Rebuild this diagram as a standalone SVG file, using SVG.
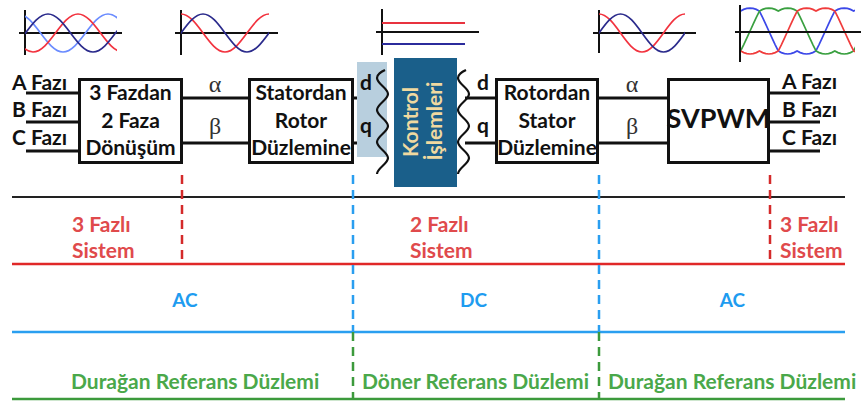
<svg xmlns="http://www.w3.org/2000/svg" width="861" height="401" viewBox="0 0 861 401">
<defs>
<style>
.t{font-family:Lato,"Liberation Sans",sans-serif;font-weight:700;fill:#111}
.bt{font-size:21px;text-anchor:middle}
.lab{font-size:21px}
.box{fill:#fff;stroke:#111;stroke-width:3}
.ln{stroke:#111;stroke-width:3;fill:none}
.ax{stroke:#111;stroke-width:2;fill:none}
.w{fill:none;stroke-width:1.7}
.gr{font-family:"Liberation Serif",serif;font-size:24px;fill:#333;text-anchor:middle}
.red{fill:#e04a4c}
.blu{fill:#1e9cf0;font-size:19px;text-anchor:middle}
.grn{fill:#4aa84a}
.dr{stroke:#d42a2a;stroke-width:2.5;stroke-dasharray:9 6}
.db{stroke:#2a9ef0;stroke-width:2.5;stroke-dasharray:9 6}
.dg{stroke:#3c9a3c;stroke-width:2.5;stroke-dasharray:9 6}
.wav{fill:none;stroke:#111;stroke-width:2.2}
.ctl{font-size:21px;text-anchor:middle;fill:#f0d9a0}
</style>
<clipPath id="c1"><rect x="25" y="0" width="92" height="70"/></clipPath>
<clipPath id="c2"><rect x="181" y="0" width="88" height="70"/></clipPath>
<clipPath id="c3"><rect x="599" y="0" width="86" height="70"/></clipPath>
<clipPath id="c4"><rect x="740" y="0" width="115" height="70"/></clipPath>
<path id="svp" d="M-113,31 l3.14,-6.9 3.14,-6.7 3.14,-6.3 3.14,-1.7 3.14,-1 3.14,-0.35 3.14,0.35 3.14,1 3.14,1.7 3.14,-1.7 3.14,-1 3.14,-0.35 3.14,0.35 3.14,1 3.14,1.7 3.14,6.3 3.14,6.7 3.14,6.9 3.14,6.9 3.14,6.7 3.14,6.3 3.14,1.7 3.14,1 3.14,0.4 3.14,-0.4 3.14,-1 3.14,-1.7 3.14,1.7 3.14,1 3.14,0.4 3.14,-0.4 3.14,-1 3.14,-1.7 3.14,-6.3 3.14,-6.7 3.14,-6.9 3.14,-6.9 3.14,-6.7 3.14,-6.3 3.14,-1.7 3.14,-1 3.14,-0.35 3.14,0.35 3.14,1 3.14,1.7 3.14,-1.7 3.14,-1 3.14,-0.35 3.14,0.35 3.14,1 3.14,1.7 3.14,6.3 3.14,6.7 3.14,6.9 3.14,6.9 3.14,6.7 3.14,6.3 3.14,1.7 3.14,1 3.14,0.4 3.14,-0.4 3.14,-1 3.14,-1.7 3.14,1.7 3.14,1 3.14,0.4 3.14,-0.4 3.14,-1 3.14,-1.7 3.14,-6.3 3.14,-6.7 3.14,-6.9"/>
<path id="wavy" d="M385,70 C381,72 377,74 377,78 C377,83.8 388,88.2 388,94 C388,99.8 377,104.2 377,110 C377,115.8 388,120.2 388,126 C388,131.8 377,136.2 377,142 C377,147.8 388,152.2 388,158 C388,163.8 377,168.2 377,174"/>
</defs>
<rect width="861" height="401" fill="#fff"/>

<g id="waveforms">
  <g id="wave-3phase-in">
    <path class="ax" d="M25,10 V55 M19,33 H122"/>
    <g clip-path="url(#c1)">
      <path class="w" stroke="#6b8cff" d="M-27,52 C-10.6,52 1.6,14 18,14 C34.4,14 46.6,52 63,52 C79.4,52 91.6,14 108,14 C124.4,14 136.6,52 153,52"/>
      <path class="w" stroke="#f2333f" d="M-12,14 C4.4,14 16.6,52 33,52 C49.4,52 61.6,14 78,14 C94.4,14 106.6,52 123,52"/>
      <path class="w" stroke="#2b2b8c" d="M3,52 C19.4,52 31.6,14 48,14 C64.4,14 76.6,52 93,52 C109.4,52 121.6,14 138,14"/>
    </g>
  </g>
  <g id="wave-ab-in">
    <path class="ax" d="M181,10 V55 M175,33 H278"/>
    <g clip-path="url(#c2)">
      <path class="w" stroke="#f2333f" d="M181,14 C197,14 209,52 225,52 C241,52 253,14 269,14"/>
      <path class="w" stroke="#2b2b8c" d="M159,52 C175,52 187,14 203,14 C219,14 231,52 247,52 C263,52 275,14 291,14"/>
    </g>
  </g>
  <g id="wave-dc">
    <path class="ax" d="M382,9 V55 M376,32 H479"/>
    <path fill="none" stroke="#e8333f" stroke-width="2" d="M382,23 H465"/>
    <path fill="none" stroke="#2b2b9c" stroke-width="2" d="M382,44 H465"/>
  </g>
  <g id="wave-ab-out">
    <path class="ax" d="M599,10 V53 M593,33 H696"/>
    <g clip-path="url(#c3)">
      <path class="w" stroke="#f2333f" d="M599,14 C614.7,14 626.3,52 642,52 C657.7,52 669.3,14 685,14"/>
      <path class="w" stroke="#2b2b8c" d="M577.5,52 C593.2,52 604.8,14 620.5,14 C636.2,14 647.8,52 663.5,52 C679.2,52 690.8,14 706.5,14"/>
    </g>
  </g>
  <g id="wave-svpwm">
    <g clip-path="url(#c4)">
      <use href="#svp" class="w" stroke="#3c48e8" transform="translate(825.3,0)"/>
      <use href="#svp" class="w" stroke="#3aa040" transform="translate(750,0)"/>
      <use href="#svp" class="w" stroke="#f03c3c" transform="translate(787.7,0)"/>
    </g>
    <path class="ax" d="M740,5 V62 M735,32 H861"/>
  </g>
</g>

<g id="connectors">
  <path class="ln" d="M26,93 H78 M26,122 H78 M26,151 H78"/>
  <path class="ln" d="M183,98 H248 M183,143 H248"/>
  <path class="ln" d="M354,98 H383 M354,143 H383"/>
  <path class="ln" d="M465,98 H495 M465,143 H495"/>
  <path class="ln" d="M599,98 H667 M599,143 H667"/>
  <path class="ln" d="M770,93 H820 M770,122 H820 M770,151 H820"/>
</g>

<g id="labels-in">
  <text class="t lab" x="12" y="90">A Fazı</text>
  <text class="t lab" x="12" y="117">B Fazı</text>
  <text class="t lab" x="12" y="145">C Fazı</text>
</g>

<g id="n-3to2">
  <rect class="box" x="79.5" y="79.5" width="102" height="83"/>
  <text class="t bt" x="130.5" y="100">3 Fazdan</text>
  <text class="t bt" x="130.5" y="128">2 Faza</text>
  <text class="t bt" x="130.5" y="155">Dönüşüm</text>
</g>

<text class="gr" x="215" y="92">α</text>
<text class="gr" x="215" y="134">β</text>

<g id="n-stator-rotor">
  <rect class="box" x="249.5" y="79.5" width="103" height="83"/>
  <text class="t bt" x="301" y="100">Statordan</text>
  <text class="t bt" x="301" y="128">Rotor</text>
  <text class="t bt" x="301" y="155">Düzlemine</text>
</g>

<g id="n-dq-in">
  <rect x="357" y="62" width="30" height="95" fill="#b8cfde"/>
  <text class="t lab" x="360" y="90">d</text>
  <text class="t lab" x="360" y="133">q</text>
  <use href="#wavy" class="wav"/>
</g>

<g id="n-control">
  <rect x="394" y="58" width="63" height="129" fill="#1a5f8a"/>
  <text class="t ctl" transform="translate(418,122) rotate(-90)">Kontrol</text>
  <text class="t ctl" transform="translate(442,121) rotate(-90)">İşlemleri</text>
</g>

<g id="n-dq-out">
  <use href="#wavy" class="wav" transform="translate(81,0)"/>
  <text class="t lab" x="477" y="90">d</text>
  <text class="t lab" x="477" y="133">q</text>
</g>

<g id="n-rotor-stator">
  <rect class="box" x="496.5" y="79.5" width="101" height="83"/>
  <text class="t bt" x="547" y="100">Rotordan</text>
  <text class="t bt" x="547" y="128">Stator</text>
  <text class="t bt" x="547" y="155">Düzlemine</text>
</g>

<text class="gr" x="632" y="92">α</text>
<text class="gr" x="632" y="134">β</text>

<g id="n-svpwm">
  <rect class="box" x="668.5" y="79.5" width="100" height="83"/>
  <text class="t" font-size="27" text-anchor="middle" x="718.5" y="128">SVPWM</text>
</g>

<g id="labels-out">
  <text class="t lab" x="782" y="89">A Fazı</text>
  <text class="t lab" x="782" y="117">B Fazı</text>
  <text class="t lab" x="782" y="145">C Fazı</text>
</g>

<g id="bands">
  <path stroke="#222" stroke-width="2" d="M12,197 H845"/>
  <path stroke="#e02828" stroke-width="2.5" d="M12,264 H845"/>
  <path stroke="#2a9ff0" stroke-width="2.5" d="M12,332 H845"/>
  <path stroke="#3c9a3c" stroke-width="2.5" d="M12,399 H845"/>
  <path class="dr" d="M182,175 V264 M770,175 V264"/>
  <path class="db" d="M353,175 V332 M599,175 V332"/>
  <path class="dg" d="M353,332 V399 M599,332 V399"/>
  <text class="t lab red" x="72" y="232">3 Fazlı</text>
  <text class="t lab red" x="72" y="258">Sistem</text>
  <text class="t lab red" x="410" y="232">2 Fazlı</text>
  <text class="t lab red" x="410" y="258">Sistem</text>
  <text class="t lab red" x="780" y="232">3 Fazlı</text>
  <text class="t lab red" x="780" y="258">Sistem</text>
  <text class="t blu" x="185" y="307">AC</text>
  <text class="t blu" x="473.5" y="307">DC</text>
  <text class="t blu" x="732.5" y="307">AC</text>
  <text class="t lab grn" x="71" y="389">Durağan Referans Düzlemi</text>
  <text class="t lab grn" x="362" y="389">Döner Referans Düzlemi</text>
  <text class="t lab grn" x="608" y="389">Durağan Referans Düzlemi</text>
</g>
</svg>
